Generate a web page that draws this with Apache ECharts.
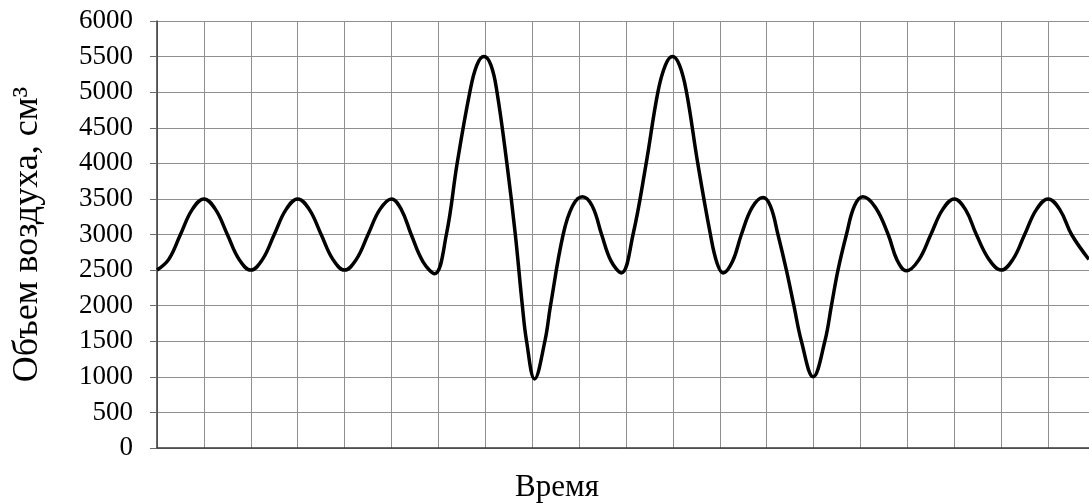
<!DOCTYPE html>
<html>
<head>
<meta charset="utf-8">
<script src="https://cdn.jsdelivr.net/npm/echarts@6/dist/echarts.min.js"></script>
<style>
html,body{margin:0;padding:0;background:#fff;}
#chart{width:1089px;height:504px;}
</style>
</head>
<body>
<div id="chart"></div>
<script>
// Time positions (in grid cells) and air volume readings (cm³)
const timePoints = [
  0, 0.25, 0.5, 0.75, 1, 1.25, 1.5, 1.75, 2, 2.25, 2.5, 2.75, 3, 3.25, 3.5, 3.75, 4, 4.25, 4.5, 4.75, 5,
  5.21, 5.42, 5.67, 5.92, 6.17, 6.40, 6.67, 6.82, 6.97, 7.12, 7.25, 7.46, 7.64, 7.79, 7.88, 8.05, 8.27, 8.39, 8.66,
  8.86, 9.07, 9.28, 9.48, 9.68, 9.90, 10.15, 10.43, 10.68, 10.84, 10.99, 11.14, 11.29, 11.53, 11.80, 11.94, 12.07, 12.27, 12.46,
  12.69, 12.92, 13.08, 13.24, 13.42, 13.58, 13.74, 13.99, 14.24, 14.38, 14.52, 14.70, 14.87, 15.05, 15.32, 15.59, 15.78, 15.98,
  16.24, 16.5, 16.75, 17, 17.24, 17.47, 17.74, 18, 18.25, 18.5, 18.75, 19, 19.25, 19.5, 19.87
];
const volumes = [
  2500, 2650, 3000, 3350, 3500, 3350, 3000, 2650, 2500, 2650, 3000, 3350, 3500, 3350, 3000, 2650, 2500, 2650, 3000, 3350, 3500,
  3350, 3000, 2620, 2450, 3000, 4000, 5000, 5380, 5500, 5380, 5000, 4000, 3000, 2000, 1500, 970, 1500, 2000, 3000,
  3400, 3530, 3400, 3000, 2630, 2460, 3000, 4000, 5000, 5380, 5500, 5380, 5000, 4000, 3000, 2600, 2460, 2620, 3000,
  3380, 3520, 3400, 3000, 2500, 2000, 1500, 1000, 1500, 2000, 2500, 3000, 3400, 3530, 3380, 3000, 2640, 2490,
  2640, 3000, 3350, 3500, 3350, 3000, 2650, 2500, 2650, 3000, 3350, 3500, 3350, 3000, 2650
];
const yTicks = [0, 500, 1000, 1500, 2000, 2500, 3000, 3500, 4000, 4500, 5000, 5500, 6000];
const yAxisTitle = 'Объем воздуха, см³';
const xAxisTitle = 'Время';

const seriesData = timePoints.map((t, i) => [t, volumes[i]]);
const serif = '"Liberation Serif", "Times New Roman", serif';

const chart = echarts.init(document.getElementById('chart'), null, {renderer: 'canvas'});
chart.setOption({
  animation: false,
  backgroundColor: '#ffffff',
  grid: {left: 157, top: 21, right: -6, bottom: 56, containLabel: false, outerBoundsMode: 'none'},
  xAxis: {
    type: 'value', min: 0, max: 20, interval: 1,
    axisLine: {show: true, onZero: false, lineStyle: {color: '#3a3a3a', width: 1.5}},
    axisTick: {show: false},
    axisLabel: {show: false},
    splitLine: {show: true, lineStyle: {color: '#8f8f8f', width: 1}}
  },
  yAxis: {
    type: 'value', min: yTicks[0], max: yTicks[yTicks.length - 1], interval: 500,
    name: yAxisTitle,
    nameLocation: 'middle',
    nameGap: 111,
    nameTextStyle: {fontFamily: serif, fontSize: 36, color: '#000'},
    axisLine: {show: true, lineStyle: {color: '#3a3a3a', width: 1.5}},
    axisTick: {show: true, length: 7, lineStyle: {color: '#6a6a6a', width: 1}},
    axisLabel: {margin: 24, fontFamily: serif, fontSize: 27, color: '#000', formatter: v => String(v)},
    splitLine: {show: true, lineStyle: {color: '#8f8f8f', width: 1}}
  },
  graphic: [{
    type: 'text', x: 557, y: 488,
    style: {text: xAxisTitle, fontFamily: serif, fontSize: 31, fill: '#000', align: 'center', verticalAlign: 'middle'}
  }],
  series: [{
    type: 'line',
    data: seriesData,
    smooth: 0.4,
    showSymbol: false,
    symbol: 'none',
    lineStyle: {color: '#000', width: 3.5},
    clip: true
  }]
});
</script>
</body>
</html>
